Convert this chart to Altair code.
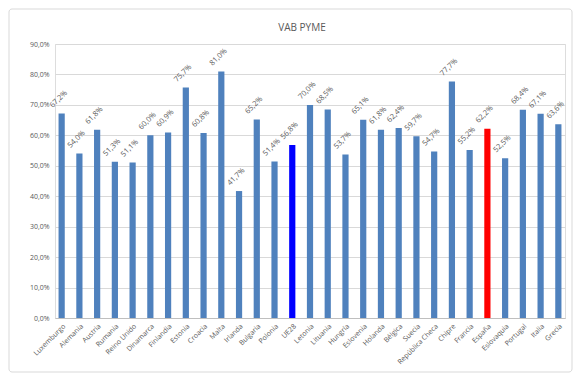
import altair as alt
import pandas as pd

categories = ["Luxemburgo", "Alemania", "Austria", "Rumania", "Reino Unido", "Dinamarca",
              "Finlandia", "Estonia", "Croacia", "Malta", "Irlanda", "Bulgaria", "Polonia",
              "UE28", "Letonia", "Lituania", "Hungría", "Eslovenia", "Holanda", "Bélgica",
              "Suecia", "República Checa", "Chipre", "Francia", "España", "Eslovaquia",
              "Portugal", "Italia", "Grecia"]
values = [67.2, 54.0, 61.8, 51.3, 51.1, 60.0, 60.9, 75.7, 60.8, 81.0, 41.7, 65.2, 51.4,
          56.8, 70.0, 68.5, 53.7, 65.1, 61.8, 62.4, 59.7, 54.7, 77.7, 55.2, 62.2, 52.5,
          68.4, 67.1, 63.6]
highlight = {"UE28": "#0000FF", "España": "#FF0000"}
base_color = "#4F81BD"
title_text = "VAB PYME"

df = pd.DataFrame({"pais": categories, "vab": values})
df["color"] = [highlight.get(c, base_color) for c in categories]

x = alt.X("pais:N", sort=categories, title=None,
          scale=alt.Scale(paddingInner=0.65, paddingOuter=0.2),
          axis=alt.Axis(labelAngle=-45, labelFontSize=7, labelColor="#595959",
                        ticks=False, domainColor="#BFBFBF", labelPadding=4))
y = alt.Y("vab:Q", title=None,
          scale=alt.Scale(domain=[0, 90]),
          axis=alt.Axis(values=[0, 10, 20, 30, 40, 50, 60, 70, 80, 90],
                        labelExpr="replace(format(datum.value, '.1f'), '.', ',') + '%'",
                        labelFontSize=7, labelColor="#595959", domain=False, ticks=False,
                        gridColor="#D9D9D9", labelPadding=6))

one = pd.DataFrame({"t": [title_text]})
frame = alt.Chart(one).mark_rect(
    fill=None, stroke="#D9D9D9", strokeWidth=1, cornerRadius=3, clip=False
).encode(x=alt.value(-46), x2=alt.value(517), y=alt.value(-35), y2=alt.value(328))

title = alt.Chart(one).mark_text(
    fontSize=10, color="#595959", align="center", baseline="middle"
).encode(x=alt.value(247), y=alt.value(-16), text="t:N")

bars = alt.Chart(df).mark_bar().encode(x=x, y=y, color=alt.Color("color:N", scale=None))
labels = alt.Chart(df).transform_calculate(
    lbl="replace(format(datum.vab, '.1f'), '.', ',') + '%'"
).mark_text(angle=315, align="center", baseline="middle", dx=8, dy=-12,
            fontSize=7.5, color="#595959").encode(x=x, y=y, text="lbl:N")

chart = alt.layer(frame, title, bars, labels).properties(
    width=510, height=274,
    autosize=alt.AutoSizeParams(type="none"),
    padding={"left": 47, "top": 36, "right": 13, "bottom": 58},
).configure_view(stroke=None).configure(font="Open Sans")

chart.save("out.html", embed_options={"renderer": "svg", "actions": False})
